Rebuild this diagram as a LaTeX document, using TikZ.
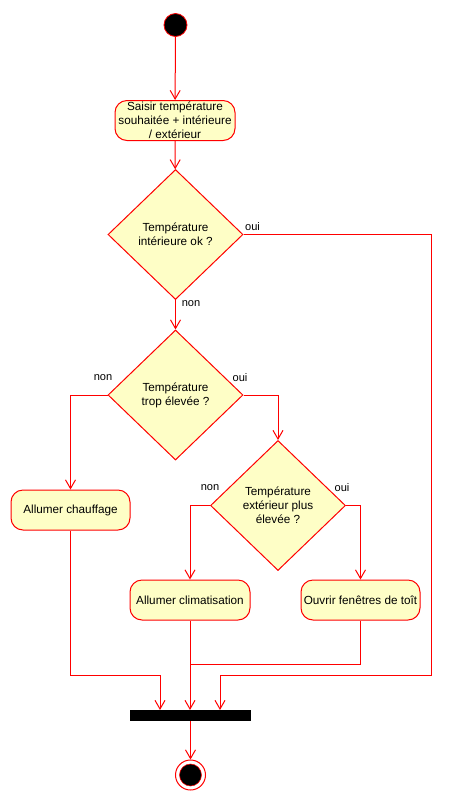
\documentclass[tikz,border=0pt]{standalone}
\usepackage{fontspec}
\setmainfont{Liberation Sans}
\usetikzlibrary{arrows.meta,shapes.geometric}
\definecolor{umlred}{HTML}{FF0000}
\definecolor{umlfill}{HTML}{FEFEC6}
\tikzset{
  act/.style={draw=umlred, fill=umlfill, line width=0.75pt, rounded corners=9pt,
    minimum width=90pt, minimum height=30pt, inner sep=1pt, align=center,
    font=\fontsize{8.8}{10.5}\selectfont},
  dec/.style={draw=umlred, fill=umlfill, line width=0.75pt, diamond, inner sep=0pt,
    minimum width=101.25pt, minimum height=97.5pt, align=center,
    font=\fontsize{8.8}{10.5}\selectfont},
  lbl/.style={font=\fontsize{8.3}{10}\selectfont, inner sep=0pt},
  arr/.style={draw=umlred, line width=0.75pt, -{Straight Barb[length=6.5pt,width=7.5pt,line width=0.75pt]}},
  ln/.style={draw=umlred, line width=0.75pt},
}
\begin{document}
\begin{tikzpicture}[x=0.75pt,y=-0.75pt]
\useasboundingbox (0,0) rectangle (451,801);
% nodes
\node[circle, fill=black, draw=umlred, line width=0.6pt, minimum size=17.25pt, inner sep=0pt] (start) at (175.5,25) {};
\node[act] (saisir) at (175,120.5) {Saisir température\\souhaitée + intérieure\\/ extérieur};
\node[dec] (d1) at (175.5,234.5) {Température\\intérieure ok ?};
\node[dec] (d2) at (175.5,395) {Température\\trop élevée ?};
\node[dec] (d3) at (278,505.5) {Température\\extérieur plus\\élevée ?};
\node[act, minimum width=89.25pt] (chauf) at (70.5,510) {Allumer chauffage};
\node[act] (clim) at (190,600) {Allumer climatisation};
\node[act, minimum width=89.25pt] (ouvrir) at (360.5,600) {Ouvrir fenêtres de toît};
\node[fill=black, minimum width=90.75pt, minimum height=8.25pt, inner sep=0pt] (bar) at (190.5,715.5) {};
\node[circle, draw=umlred, line width=0.75pt, minimum size=22.5pt, inner sep=0pt] (end) at (190.5,775) {};
\node[circle, fill=black, draw=umlred, line width=0.4pt, minimum size=16.5pt, inner sep=0pt] (endin) at (190.5,775) {};
% coordinates
\coordinate (c1) at (431,675);
\coordinate (barR) at (220,710);
\coordinate (c2) at (160,675);
\coordinate (barL) at (160,710);
\coordinate (barM) at (190,710);
\coordinate (j) at (190,664);
% labels
\node[lbl] (l1) at (252.5,227) {oui};
\node[lbl] (l2) at (191,304) {non};
\node[lbl] (l3) at (103,378) {non};
\node[lbl] (l4) at (240,378) {oui};
\node[lbl] (l5) at (210,488) {non};
\node[lbl] (l6) at (342,488) {oui};
% connectors
\draw[arr] (start) -- (saisir);
\draw[arr] (saisir) -- (d1);
\draw[arr] (d1) -- (d2);
\draw[arr] (d1.east) -| (c1) -| (barR);
\draw[arr] (d2.west) -| (chauf.north);
\draw[arr] (d2.east) -| (d3.north);
\draw[arr] (d3.west) -| (clim.north);
\draw[arr] (d3.east) -| (ouvrir.north);
\draw[ln] (chauf.south) |- (c2);
\draw[arr] (c2) -- (barL);
\draw[arr] (clim.south) -- (barM);
\draw[ln] (ouvrir.south) |- (j);
\draw[arr] (bar.south) -- (end.north);
\end{tikzpicture}
\end{document}
